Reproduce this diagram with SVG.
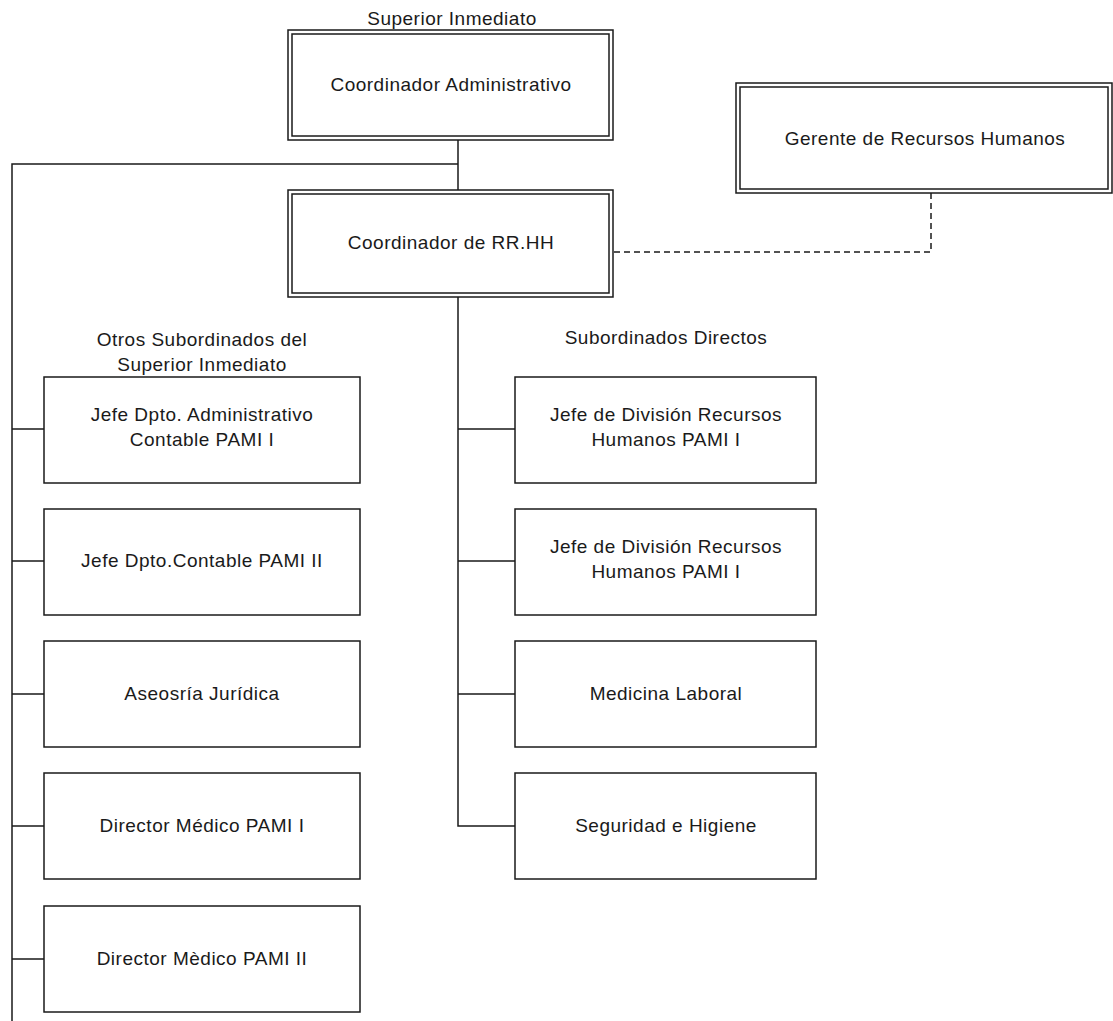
<svg xmlns="http://www.w3.org/2000/svg" width="1113" height="1021" viewBox="0 0 1113 1021">
<style>
.b{fill:#fff;stroke:#1a1a1a;stroke-width:1.5}
.d{fill:none;stroke:#1a1a1a;stroke-width:1.5}
.c{fill:none;stroke:#1a1a1a;stroke-width:1.5}
.dash{fill:none;stroke:#1a1a1a;stroke-width:1.5;stroke-dasharray:6,4}
text{font-family:"Liberation Sans",Arial,sans-serif;font-size:19px;letter-spacing:0.5px;fill:#1a1a1a;text-anchor:middle}
</style>
<rect width="1113" height="1021" fill="#fff"/>
<g id="connectors">
<path class="c" d="M458 140V190M458 164H12V1021"/>
<path class="c" d="M458 297V826H515M458 429H515M458 561H515M458 694H515"/>
<path class="c" d="M12 429H44M12 561H44M12 694H44M12 826H44M12 959H44"/>
<path class="dash" d="M931 193V252H614"/>
</g>
<text x="452" y="25">Superior Inmediato</text>
<text x="202" y="346">Otros Subordinados del</text>
<text x="202" y="371">Superior Inmediato</text>
<text x="666" y="344">Subordinados Directos</text>
<g id="n-coord-adm">
<rect class="b" x="288" y="30" width="325" height="110"/>
<rect class="d" x="292" y="34" width="317" height="102"/>
<text x="451" y="91">Coordinador Administrativo</text>
</g>
<g id="n-gerente">
<rect class="b" x="736" y="83" width="376" height="110"/>
<rect class="d" x="740" y="87" width="368" height="102"/>
<text x="925" y="145">Gerente de Recursos Humanos</text>
</g>
<g id="n-coord-rrhh">
<rect class="b" x="288" y="190" width="325" height="107"/>
<rect class="d" x="292" y="194" width="317" height="99"/>
<text x="451" y="249">Coordinador de RR.HH</text>
</g>
<g id="n-l1">
<rect class="b" x="44" y="377" width="316" height="106"/>
<text x="202" y="421">Jefe Dpto. Administrativo</text>
<text x="202" y="446">Contable PAMI I</text>
</g>
<g id="n-l2">
<rect class="b" x="44" y="509" width="316" height="106"/>
<text x="202" y="567">Jefe Dpto.Contable PAMI II</text>
</g>
<g id="n-l3">
<rect class="b" x="44" y="641" width="316" height="106"/>
<text x="202" y="700">Aseosría Jurídica</text>
</g>
<g id="n-l4">
<rect class="b" x="44" y="773" width="316" height="106"/>
<text x="202" y="832">Director Médico PAMI I</text>
</g>
<g id="n-l5">
<rect class="b" x="44" y="906" width="316" height="106"/>
<text x="202" y="965">Director Mèdico PAMI II</text>
</g>
<g id="n-r1">
<rect class="b" x="515" y="377" width="301" height="106"/>
<text x="666" y="421">Jefe de División Recursos</text>
<text x="666" y="446">Humanos PAMI I</text>
</g>
<g id="n-r2">
<rect class="b" x="515" y="509" width="301" height="106"/>
<text x="666" y="553">Jefe de División Recursos</text>
<text x="666" y="578">Humanos PAMI I</text>
</g>
<g id="n-r3">
<rect class="b" x="515" y="641" width="301" height="106"/>
<text x="666" y="700">Medicina Laboral</text>
</g>
<g id="n-r4">
<rect class="b" x="515" y="773" width="301" height="106"/>
<text x="666" y="832">Seguridad e Higiene</text>
</g>
</svg>
